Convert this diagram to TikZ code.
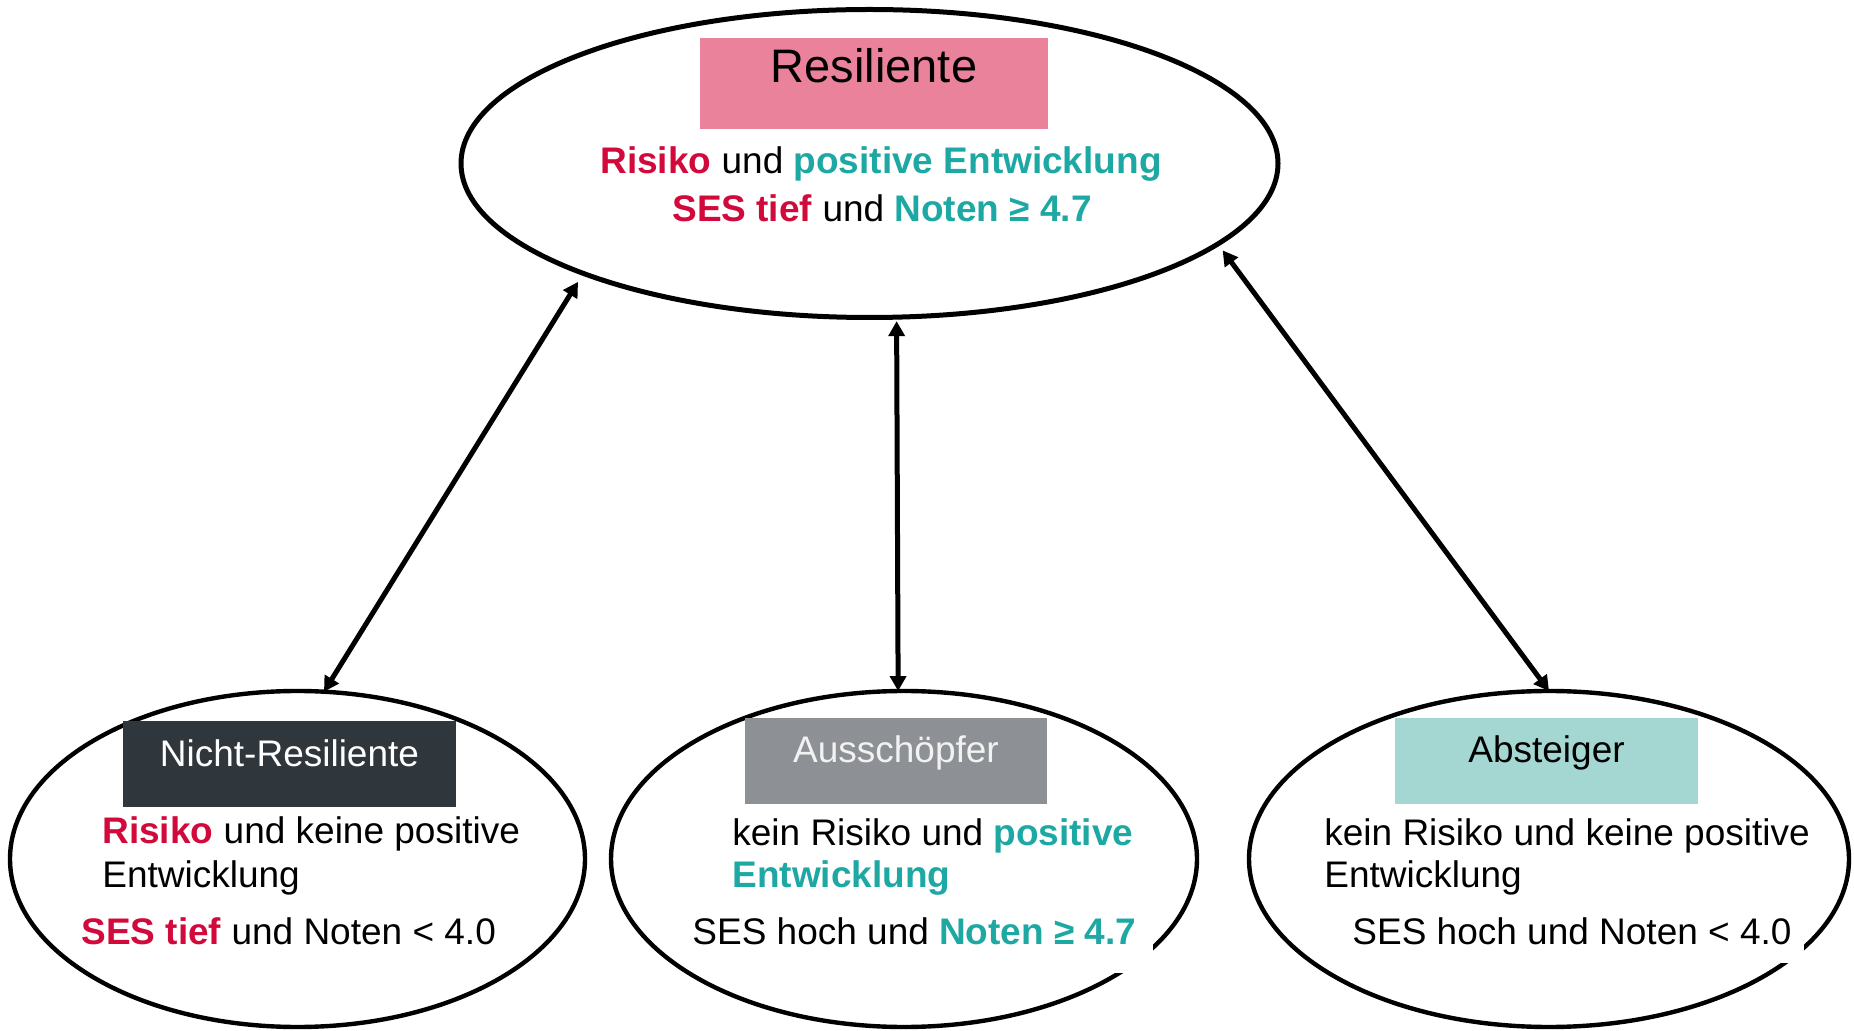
\documentclass[tikz,border=0pt]{standalone}
\usepackage{fontspec}
\setmainfont{Liberation Sans}
\usetikzlibrary{shapes.geometric,arrows.meta}
\definecolor{rred}{HTML}{D20A3C}
\definecolor{tteal}{HTML}{1EA8A4}
\definecolor{pinkbox}{HTML}{E9829A}
\definecolor{darkbox}{HTML}{2F363C}
\definecolor{graybox}{HTML}{8D9094}
\definecolor{tealbox}{HTML}{A4D7D2}
\begin{document}
\begin{tikzpicture}[x=0.5pt,y=-0.5pt,
  oval/.style={ellipse, draw=black, inner sep=0pt, outer sep=0pt},
  hdr/.style={inner sep=0pt, outer sep=0pt, draw=none},
  body/.style={font=\fontsize{18.5}{22}\selectfont, inner sep=0pt, anchor=base west},
  ttl/.style={font=\fontsize{18.5}{22}\selectfont, inner sep=0pt, anchor=base},
  arr/.style={line width=2.5pt, {Triangle[length=7.5pt,width=8pt]}-{Triangle[length=7.5pt,width=8pt]}}]
\useasboundingbox (0,0) rectangle (1854,1031);
% ellipses
\node[oval, line width=2.5pt, minimum width=408.5pt, minimum height=154pt] (res) at (869.5,163.5) {};
\node[oval, line width=2.2pt, minimum width=287.5pt, minimum height=168pt] (nr) at (297.5,859) {};
\node[oval, line width=2.2pt, minimum width=293pt, minimum height=168pt] (aus) at (904,859) {};
\node[oval, line width=2.2pt, minimum width=300pt, minimum height=168pt] (abs) at (1549,859) {};
% connectors
\draw[arr, shorten <=5pt] (res.201) -- (nr.81.8);
\draw[arr, shorten <=2pt] (res.280.1) -- (aus.92.4);
\draw[arr, shorten <=4pt] (res.347) -- (abs.north);
% white patches behind text
\fill[white] (730,912) rectangle (1153,973);
\fill[white] (1360,912) rectangle (1804,963);
% header boxes
\node[hdr, fill=pinkbox, minimum width=174pt, minimum height=45.5pt] (resbox) at (874,83.5) {};
\node[hdr, fill=darkbox, minimum width=166.5pt, minimum height=43pt] (nrbox) at (289.5,764) {};
\node[hdr, fill=graybox, minimum width=151pt, minimum height=43pt] (ausbox) at (896,761) {};
\node[hdr, fill=tealbox, minimum width=151.5pt, minimum height=43pt] (absbox) at (1546.5,761) {};
% titles
\node[ttl, font=\fontsize{23.5}{27}\selectfont] (restitle) at (874,83) {Resiliente};
\node[ttl, text=white] (nrtitle) at (289.5,767) {Nicht-Resiliente};
\node[ttl, text=white!95!black] (austitle) at (896,763) {Ausschöpfer};
\node[ttl] (abstitle) at (1546.5,763) {Absteiger};
% top text
\node[ttl] (res1) at (881,174) {\textcolor{rred}{\textbf{Risiko}} und \textcolor{tteal}{\textbf{positive Entwicklung}}};
\node[ttl] (res2) at (882,222) {\textcolor{rred}{\textbf{SES tief}} und \textcolor{tteal}{\textbf{Noten ≥ 4.7}}};
% left text
\node[body] (nr1) at (102,843) {\textcolor{rred}{\textbf{Risiko}} und keine positive};
\node[body] (nr2) at (102,887) {Entwicklung};
\node[body] (nr3) at (81,944) {\textcolor{rred}{\textbf{SES tief}} und Noten < 4.0};
% middle text
\node[body] (aus1) at (732,846) {kein Risiko und \textcolor{tteal}{\textbf{positive}}};
\node[body] (aus2) at (732,887) {\textcolor{tteal}{\textbf{Entwicklung}}};
\node[body] (aus3) at (692,944) {SES hoch und \textcolor{tteal}{\textbf{Noten ≥ 4.7}}};
% right text
\node[body] (abs1) at (1324,846) {kein Risiko und keine positive};
\node[body] (abs2) at (1324,887) {Entwicklung};
\node[body] (abs3) at (1352,944) {SES hoch und Noten < 4.0};
\end{tikzpicture}
\end{document}
